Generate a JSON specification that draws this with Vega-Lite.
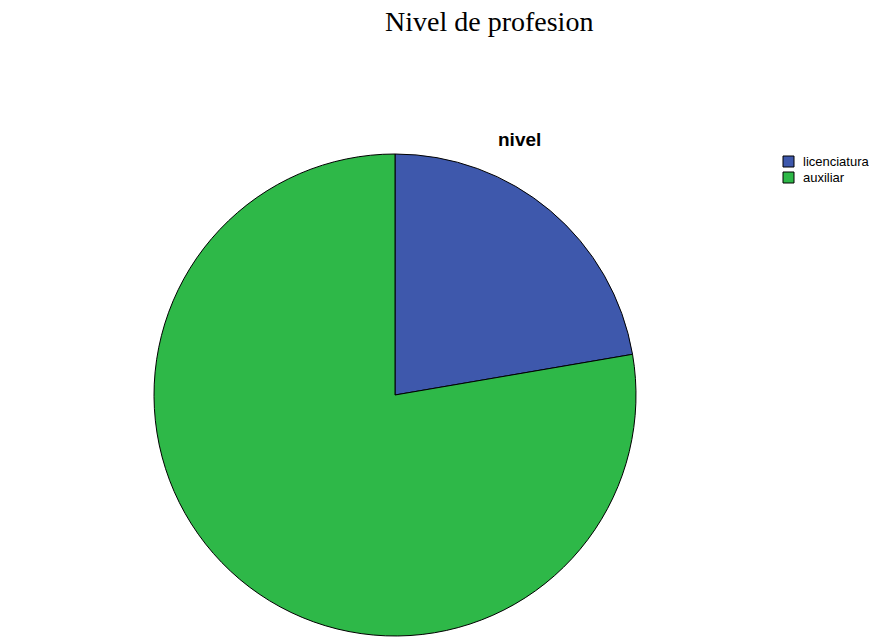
{
  "$schema": "https://vega.github.io/schema/vega-lite/v6.json",
  "autosize": "pad",
  "padding": {"left": 0, "top": 9, "right": 0, "bottom": 0},
  "background": "white",
  "title": {
    "text": "Nivel de profesion",
    "font": "Liberation Serif",
    "fontSize": 28,
    "fontWeight": "normal",
    "color": "black",
    "anchor": "start",
    "frame": "group",
    "dx": 385,
    "offset": 94
  },
  "vconcat": [
    {
      "width": 790,
      "height": 482,
      "title": {
        "text": "nivel",
        "font": "Liberation Sans",
        "fontSize": 19,
        "fontWeight": "bold",
        "color": "black",
        "anchor": "start",
        "frame": "group",
        "dx": 498,
        "offset": 2
      },
      "data": {
        "values": [
          {"nivel": "licenciatura", "porcentaje": 22.3},
          {"nivel": "auxiliar", "porcentaje": 77.7}
        ]
      },
      "mark": {"type": "arc", "stroke": "black", "strokeWidth": 1},
      "encoding": {
        "theta": {"field": "porcentaje", "type": "quantitative", "stack": true},
        "order": {"field": "nivel", "sort": "descending"},
        "color": {
          "field": "nivel",
          "type": "nominal",
          "scale": {"domain": ["licenciatura", "auxiliar"], "range": ["#3E58AC", "#2EB848"]},
          "legend": {
            "title": null,
            "orient": "none",
            "legendX": 782,
            "legendY": 1,
            "symbolType": "square",
            "symbolSize": 121,
            "symbolStrokeColor": "black",
            "symbolStrokeWidth": 1,
            "labelFont": "Liberation Sans",
            "labelFontSize": 13,
            "labelColor": "black",
            "labelOffset": 8,
            "rowPadding": 1,
            "padding": 0
          }
        }
      }
    }
  ],
  "config": {"view": {"stroke": null}, "concat": {"spacing": 0}}
}
